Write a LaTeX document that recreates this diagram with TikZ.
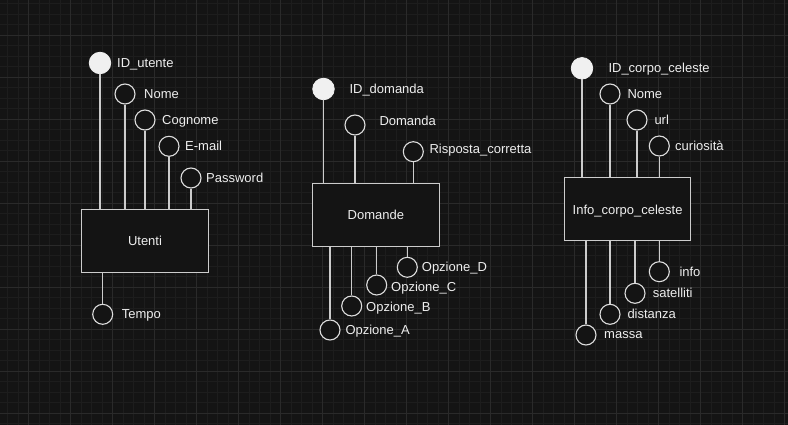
\documentclass[tikz,border=0pt]{standalone}
\usepackage{fontspec}
\setmainfont{Liberation Sans}
\definecolor{bgc}{HTML}{141414}
\definecolor{gminor}{HTML}{1D1D1D}
\definecolor{gmajor}{HTML}{2A2A2A}
\definecolor{linec}{HTML}{CCCCCC}
\definecolor{circc}{HTML}{DDDDDD}
\definecolor{keyc}{HTML}{F0F0F0}
\definecolor{txtc}{HTML}{EEEEEE}
\begin{document}
\begin{tikzpicture}[x=1pt,y=-1pt,
  attr/.style={circle,draw=circc,fill=bgc,line width=1.1pt,minimum size=20pt,inner sep=0pt},
  keyattr/.style={circle,draw=keyc,fill=keyc,line width=0.8pt,minimum size=21.5pt,inner sep=0pt},
  ent/.style={draw=linec,fill=bgc,line width=1.1pt,minimum width=126.5pt,minimum height=63pt,inner sep=0pt,
    text=txtc,font=\fontsize{13}{15}\selectfont,text height=9.4pt,text depth=0pt},
  lbl/.style={anchor=base west,inner sep=0pt,text=txtc,font=\fontsize{13}{15}\selectfont},
  conn/.style={draw=linec,line width=1.1pt}]
\useasboundingbox (0,0) rectangle (788,425);
\fill[bgc] (0,0) rectangle (788,425);
% grid
\foreach \i in {0,...,75} {\draw[gminor,line width=0.6pt] (7.3+10.5*\i,0) -- (7.3+10.5*\i,425);}
\foreach \i in {0,...,41} {\draw[gminor,line width=0.6pt] (0,3.5+10.5*\i) -- (788,3.5+10.5*\i);}
\foreach \i in {0,...,18} {\draw[gmajor,line width=0.7pt] (28.3+42*\i,0) -- (28.3+42*\i,425);}
\foreach \i in {0,...,9} {\draw[gmajor,line width=0.7pt] (0,35+42*\i) -- (788,35+42*\i);}

% ---------- Utenti ----------
\node[ent] (u) at (145,240.8) {Utenti};
\node[keyattr] (idu) at (100,63) {};
\node[attr] (unome) at (125,94) {};
\node[attr] (ucogn) at (145,120) {};
\node[attr] (umail) at (169,146.3) {};
\node[attr] (upwd) at (191,178) {};
\node[attr] (utempo) at (102.7,314.3) {};
\node[lbl] (lidu) at (117,67.3) {ID\_utente};
\node[lbl] (lunome) at (144,98.6) {Nome};
\node[lbl] (lucogn) at (162,124.6) {Cognome};
\node[lbl] (lumail) at (185,150.6) {E-mail};
\node[lbl] (lupwd) at (206,182.6) {Password};
\node[lbl] (lutempo) at (121.7,318.6) {Tempo};
\foreach \c in {idu,unome,ucogn,umail,upwd} {\draw[conn] (\c.south) -- (\c.south |- u.north);}
\draw[conn] (utempo.north) -- (utempo.north |- u.south);

% ---------- Domande ----------
\node[ent] (d) at (375.85,214.65) {Domande};
\node[keyattr] (idd) at (323.5,89) {};
\node[attr] (ddom) at (355,125) {};
\node[attr] (drisp) at (413.3,151.7) {};
\node[attr] (doa) at (330,330) {};
\node[attr] (dob) at (351.7,306) {};
\node[attr] (doc) at (376.7,285) {};
\node[attr] (dod) at (407.3,267.3) {};
\node[lbl] (lidd) at (349.3,93.6) {ID\_domanda};
\node[lbl] (lddom) at (379.3,125.3) {Domanda};
\node[lbl] (ldrisp) at (429.3,153.9) {Risposta\_corretta};
\node[lbl] (ldod) at (421.7,271.6) {Opzione\_D};
\node[lbl] (ldoc) at (391,291.3) {Opzione\_C};
\node[lbl] (ldob) at (366,311.3) {Opzione\_B};
\node[lbl] (ldoa) at (345.3,334.6) {Opzione\_A};
\foreach \c in {idd,ddom,drisp} {\draw[conn] (\c.south) -- (\c.south |- d.north);}
\foreach \c in {doa,dob,doc,dod} {\draw[conn] (\c.north) -- (\c.north |- d.south);}

% ---------- Info_corpo_celeste ----------
\node[ent] (ic) at (627.65,209.35) {Info\_corpo\_celeste};
\node[keyattr] (idc) at (582,68.3) {};
\node[attr] (inome) at (610,94) {};
\node[attr] (iurl) at (637,120) {};
\node[attr] (icur) at (659.3,146) {};
\node[attr] (imassa) at (586,335) {};
\node[attr] (idist) at (610,314.3) {};
\node[attr] (isat) at (635,293.3) {};
\node[attr] (iinfo) at (659.3,271.7) {};
\node[lbl] (lidc) at (608.3,72.9) {ID\_corpo\_celeste};
\node[lbl] (linome) at (627.3,98.6) {Nome};
\node[lbl] (liurl) at (654.3,124.6) {url};
\node[lbl] (licur) at (675,150.6) {curiosità};
\node[lbl] (liinfo) at (679.3,276.3) {info};
\node[lbl] (lisat) at (652.7,297.9) {satelliti};
\node[lbl] (lidist) at (627.3,318.6) {distanza};
\node[lbl] (limassa) at (604,338.8) {massa};
\foreach \c in {idc,inome,iurl,icur} {\draw[conn] (\c.south) -- (\c.south |- ic.north);}
\foreach \c in {imassa,idist,isat,iinfo} {\draw[conn] (\c.north) -- (\c.north |- ic.south);}
\end{tikzpicture}
\end{document}
